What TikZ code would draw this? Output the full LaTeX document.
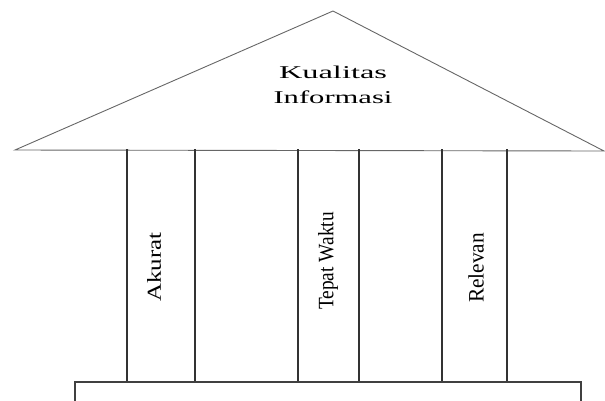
\documentclass[tikz,border=0pt]{standalone}
\usepackage{fontspec}
\setmainfont{Liberation Serif}
\begin{document}
\begin{tikzpicture}[x=1pt,y=-1pt,
  roofline/.style={draw=black!60,line width=0.9pt,line join=miter},
  pillarline/.style={draw=black!80,line width=1.3pt},
  baseline/.style={draw=black!75,line width=1.3pt},
  titletext/.style={font=\fontsize{18}{22}\selectfont,inner sep=0pt,text=black},
  pillartext/.style={font=\fontsize{22}{24}\selectfont,inner sep=0pt,rotate=90,text=black}]
\useasboundingbox (0,0) rectangle (605,400);
% roof
\draw[roofline] (15,150) -- (333,11) -- (604,151) -- cycle;
% pillars
\foreach \xa/\xb in {127/195,298/359,442/507}{
  \draw[pillarline] (\xa,149) -- (\xa,382);
  \draw[pillarline] (\xb,149) -- (\xb,382);
}
% base
\draw[baseline] (75,410) -- (75,382) -- (581,382) -- (581,410);
% texts
\node[titletext] (t1) at (333,72) {\scalebox{1.8}[1]{Kualitas}};
\node[titletext] (t2) at (333,97) {\scalebox{1.7}[1]{Informasi}};
\node[pillartext] (p1) at (154,267) {\scalebox{1.13}[0.9]{Akurat}};
\node[pillartext] (p2) at (328,261) {\scalebox{0.88}[1]{Tepat Waktu}};
\node[pillartext] (p3) at (476,268) {\scalebox{0.97}[1]{Relevan}};
\end{tikzpicture}
\end{document}
